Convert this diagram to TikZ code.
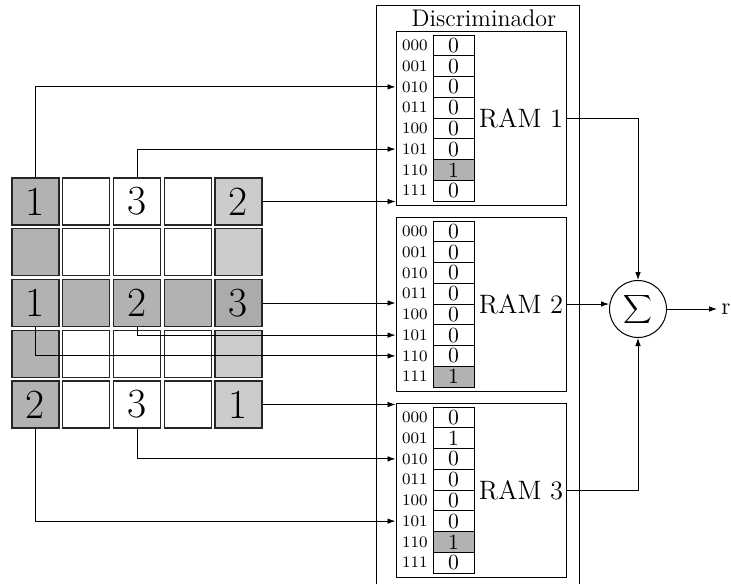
\documentclass[tikz,border=0pt]{standalone}
\usetikzlibrary{arrows.meta,calc}
\colorlet{dk}{black!30}
\colorlet{lt}{black!20}
\colorlet{dkk}{black!33}
\colorlet{m0}{white}
\colorlet{m1}{black!30}
\begin{document}
\begin{tikzpicture}[x=0.5pt,y=-0.5pt,
  cellb/.style={draw=black!85, line width=0.55pt, minimum size=23.5pt, inner sep=0pt, font=\huge},
  memc/.style={draw, line width=0.5pt, minimum width=20.5pt, minimum height=10.375pt, inner sep=0pt, font=\fontsize{10.8}{12}\selectfont},
  addr/.style={font=\footnotesize, inner sep=0pt, anchor=east},
  ramb/.style={draw, line width=0.5pt, minimum width=85pt, minimum height=87pt, inner sep=0pt},
  conn/.style={-{Latex[length=4pt,width=2.8pt]}, line width=0.45pt},
]
\useasboundingbox (0,0) rectangle (731,584);

% input grid
\foreach \i/\j/\c/\t in {
  0/0/dk/1, 0/1/white/, 0/2/white/3, 0/3/white/, 0/4/lt/2,
  1/0/dk/,  1/1/white/, 1/2/white/,  1/3/white/, 1/4/lt/,
  2/0/dk/1, 2/1/dk/,    2/2/dk/2,    2/3/dk/,    2/4/dkk/3,
  3/0/dk/,  3/1/white/, 3/2/white/,  3/3/white/, 3/4/lt/,
  4/0/dk/2, 4/1/white/, 4/2/white/3, 4/3/white/, 4/4/lt/1}
  \node[cellb, fill=\c] (c\i\j) at ({35.5+50.75*\j},{201.5+50.75*\i}) {\t};

% discriminator frame
\draw[line width=0.5pt] (376,584) |- (579,5) -- (579,584);
\node[anchor=base, font=\large, inner sep=0pt] (disc) at (484,26) {Discriminador};

% RAMs: value/fill pairs
\foreach \k/\vals in {1/{0/0,0/0,0/0,0/0,0/0,0/0,1/1,0/0},
                      2/{0/0,0/0,0/0,0/0,0/0,0/0,0/0,1/1},
                      3/{0/0,1/0,0/0,0/0,0/0,0/0,1/1,0/0}} {
  \pgfmathsetmacro\ramtop{31+186*(\k-1)}
  \node[ramb] (ram\k) at (481,{\ramtop+87}) {};
  \foreach \v/\f [count=\r from 0] in \vals
    \node[memc, fill=m\f] (m\k-\r) at (453.5,{\ramtop+4+20.75*(\r+0.5)}) {\v};
  \foreach \a [count=\r from 0] in {000,001,010,011,100,101,110,111}
    \node[addr] (a\k-\r) at (428,{\ramtop+4+20.75*(\r+0.5)}) {\a};
  \node[anchor=east, inner sep=1.5pt, font=\fontsize{13.3}{16}\selectfont] (l\k) at (ram\k.east) {RAM \k};
}

% sum
\node[draw, circle, line width=0.5pt, minimum size=28.5pt, inner sep=0pt] (sum) at (638,309)
  {\fontsize{11}{13}\selectfont$\displaystyle\sum$};
\node[anchor=west, inner xsep=2pt, inner ysep=1pt, font=\large] (out) at (717,309) {r};

% connectors grid -> RAMs
\draw[conn] (c00.north) |- (ram1.west |- m1-2);
\draw[conn] (c02.north) |- (ram1.west |- m1-5);
\draw[conn] (c04.east) -- (c04.east -| ram1.west);
\draw[conn] (c24.east) -- (c24.east -| ram2.west);
\draw[conn] (c22.south) |- (ram2.west |- m2-5);
\draw[conn] (c20.south) |- (ram2.west |- m2-6);
\draw[conn] (c44.east) -- (c44.east -| ram3.west);
\draw[conn] (c42.south) |- (ram3.west |- m3-2);
\draw[conn] (c40.south) |- (ram3.west |- m3-5);

% RAMs -> sum
\draw[conn] (ram1.east) -| (sum.north);
\draw[conn] (ram2.east) -- (ram2.east -| sum.west);
\draw[conn] (ram3.east) -| (sum.south);
\draw[conn] (sum.east) -- (out.west);
\end{tikzpicture}
\end{document}
